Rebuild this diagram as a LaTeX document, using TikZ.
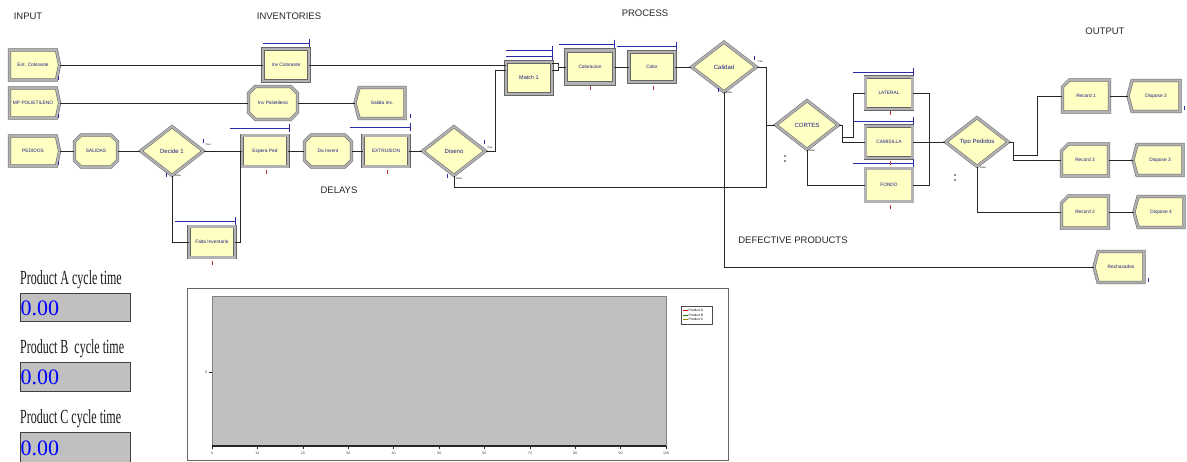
\documentclass[tikz,border=0pt]{standalone}
\usepackage{fontspec}
\setmainfont{Liberation Serif}
\setsansfont{Liberation Sans}
\usetikzlibrary{shapes.geometric, shapes.misc, shapes.symbols}

\definecolor{modfill}{HTML}{FFFFC4}
\definecolor{modtext}{HTML}{1A1A80}
\definecolor{qblue}{HTML}{2B2BA8}
\definecolor{cntred}{HTML}{C03030}
\definecolor{plotgray}{HTML}{C0C0C0}

\begin{document}
\begin{tikzpicture}[x=1pt,y=-1pt,
  module/.style={draw=black!60, double=black!30, double distance=2.2pt, line width=0.5pt,
    fill=modfill, inner sep=0pt, text=modtext, font=\sffamily\fontsize{4.8}{5.5}\selectfont},
  process/.style={module, rectangle, minimum width=46pt, minimum height=31pt},
  create/.style={module, signal, signal to=east, signal pointer angle=156,
    minimum width=50pt, minimum height=30pt},
  dispose/.style={module, signal, signal to=west, signal pointer angle=150,
    minimum width=50pt, minimum height=31pt},
  assign/.style={module, chamfered rectangle, chamfered rectangle xsep=5pt,
    chamfered rectangle ysep=5pt, minimum width=47pt, minimum height=32pt},
  record/.style={module, chamfered rectangle, chamfered rectangle corners=north west,
    chamfered rectangle xsep=5pt, chamfered rectangle ysep=5pt,
    minimum width=47pt, minimum height=32pt},
  decide/.style={module, diamond, minimum width=63pt, minimum height=49pt,
    font=\sffamily\fontsize{6}{7}\selectfont},
  title/.style={font=\sffamily\fontsize{9.5}{11}\selectfont, text=black!85},
  conn/.style={draw=black!85, line width=0.7pt},
  queue/.style={draw=qblue, line width=0.8pt},
  tinytext/.style={font=\sffamily\fontsize{2.5}{3}\selectfont, inner sep=0pt},
  axistext/.style={font=\sffamily\fontsize{3.6}{4}\selectfont, inner sep=0pt, text=black!70},
  cyclelabel/.style={anchor=west, font=\fontsize{20}{22}\selectfont, xscale=0.6,
    inner sep=0pt, text=black!90},
  valbox/.style={draw=black!75, line width=1pt, fill=plotgray, minimum width=110pt},
  valtext/.style={anchor=west, text=blue, font=\fontsize{22}{24}\selectfont, inner sep=0pt}]

\useasboundingbox (0,0) rectangle (1187,462);

% section titles
\node[title] (tinput) at (28,16) {INPUT};
\node[title] (tinv) at (289,16) {INVENTORIES};
\node[title] (tproc) at (645,13) {PROCESS};
\node[title] (tout) at (1105,31) {OUTPUT};
\node[title] (tdel) at (339,190) {DELAYS};
\node[title] (tdef) at (793,240) {DEFECTIVE PRODUCTS};

% input and inventories
\node[create] (entcol) at (33,65) {Ent. Colorante};
\node[create] (mppol) at (33,103) {MP POLIETILENO};
\node[create] (pedidos) at (33,151) {PEDIDOS};
\node[assign, minimum width=43pt] (salidas) at (96,151) {SALIDAS};
\node[decide] (dec1) at (172,151) {Decide 1};
\node[process] (falta) at (212,242) {Falta Inventario};
\node[process] (espera) at (265,151) {Espera Ped};
\node[assign] (dainv) at (328,151) {Da Invent};
\node[process] (extr) at (386,151) {EXTRUSION};
\node[decide] (diseno) at (454,151) {Diseno};
\node[process, minimum height=32pt] (invcol) at (286,65) {Inv Colorante};
\node[assign, minimum width=49pt, minimum height=33pt] (invpol) at (273,103) {Inv Polietileno};
\node[dispose] (salinv) at (382,103) {Salida Inv.};

% process
\node[process, minimum height=32pt, font=\sffamily\fontsize{5.5}{6}\selectfont] (match) at (529,78) {Match 1};
\node[process, minimum width=48pt, minimum height=33pt, line width=0.8pt, double distance=2.8pt] (colorac) at (590,67) {Coloracion};
\node[process, minimum height=30pt] (color) at (652,67) {Color};
\node[decide, minimum width=65pt, minimum height=50pt] (calidad) at (724,67) {Calidad};
\node[decide] (cortes) at (807,125) {CORTES};
\node[process, minimum width=47pt, minimum height=32pt] (lateral) at (889,93) {LATERAL};
\node[process, minimum width=47pt, minimum height=32pt] (camis) at (889,142) {CAMISILLA};
\node[process, minimum width=47pt, minimum height=33pt] (fondo) at (889,185) {FONDO};
\node[decide] (tipo) at (977,142) {Tipo Pedidos};

% output
\node[record] (rec1) at (1086,96) {Record 1};
\node[dispose, minimum width=52pt] (disp2) at (1156,96) {Dispose 2};
\node[record] (rec3) at (1085,160) {Record 3};
\node[dispose] (disp3) at (1160,160) {Dispose 3};
\node[record] (rec2) at (1085,212) {Record 2};
\node[dispose] (disp4) at (1161,212) {Dispose 4};
\node[dispose] (rech) at (1121,267) {Rechazados};

% connectors
\draw[conn] (entcol.east) -- (invcol.west);
\draw[conn] (invcol.east) -- (invcol.east -| match.west);
\draw[conn] (mppol.east) -- (invpol.west);
\draw[conn] (invpol.east) -- (salinv.west);
\draw[conn] (pedidos.east) -- (salidas.west);
\draw[conn] (salidas.east) -- (dec1.west);
\draw[conn] (dec1.east) -- (espera.west);
\draw[conn] (dec1.south) |- (falta.west);
\draw[conn] (falta.east) -- ++(5,0) |- (espera.west);
\draw[conn] (espera.east) -- (dainv.west);
\draw[conn] (dainv.east) -- (extr.west);
\draw[conn] (extr.east) -- (diseno.west);
\draw[conn] (diseno.east) -- ++(10,0) |- ([yshift=8pt]match.west);
\coordinate (mout) at (558,67);
\draw[conn] ([yshift=15pt]match.east) -| (mout) |- ([yshift=8pt]match.east);
\draw[conn] (mout) -- (colorac.west);
\draw[conn] (colorac.east) -- (color.west);
\draw[conn] (color.east) -- (calidad.west);
\coordinate (cj) at (766,125);
\coordinate (dj) at (766,187);
\draw[conn] (calidad.east) -| (cj) -- (cortes.west);
\draw[conn] (diseno.south) |- (dj) -- (cj);
\draw[conn] (calidad.south) |- (rech.west);
\coordinate (cs) at (842.5,137);
\draw[conn] (cortes.east) -- ++(4,0) |- (camis.west);
\draw[conn] (cs) -- ++(11,0) |- (lateral.west);
\draw[conn] (cortes.south) |- (fondo.west);
\coordinate (tj) at (929,142);
\draw[conn] (lateral.east) -| (tj);
\draw[conn] (fondo.east) -| (tj);
\draw[conn] (camis.east) -- (tipo.west);
\coordinate (ts) at (1014,155);
\draw[conn] (tipo.east) -- ++(5,0) |- (rec3.west);
\draw[conn] (ts) -- ++(23,0) |- (rec1.west);
\draw[conn] (tipo.south) |- (rec2.west);
\draw[conn] (rec1.east) -- (disp2.west);
\draw[conn] (rec3.east) -- (disp3.west);
\draw[conn] (rec2.east) -- (disp4.west);

% queues
\foreach \xa/\xb/\yy in {263/309/43, 506/552/50, 506/552/56, 559/614/44, 617/676/46,
    230/289/128, 350/410/127, 175/235/221, 853/913/72, 853/913/121, 853/913/163}
  \draw[queue] (\xa,\yy) -- (\xb,\yy) ++(0,-4) -- ++(0,8);

% counters
\foreach \x/\y in {58.5/76, 58.5/114, 58.5/161, 410.5/114, 1184/106, 1148/278,
    203/139, 166/173, 484/140, 447/174, 754/56, 718/88}
  \draw[qblue, line width=0.8pt] (\x,\y) -- ++(0,4);
\foreach \x/\y in {212/261, 266/170, 387/170, 590/86, 653/86, 890/111, 890/161, 890/205}
  \draw[cntred, line width=0.8pt] (\x,\y) -- ++(0,4);
\foreach \x/\y in {785/156, 785/161, 955/175, 955/180}
  \fill[black!45] (\x-1,\y-1) rectangle ++(2,2);
\node[tinytext] (t1) at (208,145) {True};
\node[tinytext] (f1) at (178,176) {False};
\node[tinytext] (t2) at (490,148) {True};
\node[tinytext] (f2) at (459,179) {False};
\node[tinytext] (t3) at (760,62) {True};
\node[tinytext] (f3) at (729,93) {False};
\node[tinytext] (f4) at (812,151) {False};
\node[tinytext] (f5) at (983,168) {False};

% cycle time displays
\node[cyclelabel] (labA) at (20,280) {Product A cycle time};
\node[valbox, minimum height=28pt] (valA) at (75,308) {};
\node[valtext] (numA) at ([xshift=1pt]valA.west) {0.00};
\node[cyclelabel] (labB) at (20,349) {Product B~ cycle time};
\node[valbox, minimum height=29pt] (valB) at (75,377.5) {};
\node[valtext] (numB) at ([xshift=1pt]valB.west) {0.00};
\node[cyclelabel] (labC) at (20,419) {Product C cycle time};
\node[valbox, minimum height=30pt] (valC) at (75,448) {};
\node[valtext] (numC) at ([xshift=1pt]valC.west) {0.00};

% plot
\draw[black!60, line width=0.8pt, fill=white] (187,288) rectangle (728,460);
\fill[plotgray] (212,296) rectangle (666,446);
\draw[black!50, line width=0.6pt] (212,446) -- (212,296) -- (666,296) -- (666,446);
\draw[black!85, line width=1.2pt] (212,446) -- (666,446);
\foreach \i in {0,10,...,100} {
  \draw[black!85, line width=0.5pt] (212+4.54*\i,446) -- ++(0,3);
  \node[axistext] at (212+4.54*\i,453) {\i};
}
\draw[black!85, line width=0.6pt] (209,372) -- (212,372);
\node[axistext] (yzero) at (206,372) {0};
\node[draw=black!70, fill=white, line width=0.8pt, minimum width=31pt, minimum height=18pt] (legend) at (696.5,315) {};
\foreach \c/\t [count=\k] in {red!80!black/A, green!50!black/B, olive/C} {
  \draw[\c, line width=0.6pt] (683,306+4.5*\k) -- ++(5,0);
  \node[tinytext, anchor=west, font=\sffamily\fontsize{3.3}{3.5}\selectfont] at (688.5,306+4.5*\k) {Product \t};
}
\end{tikzpicture}
\end{document}
